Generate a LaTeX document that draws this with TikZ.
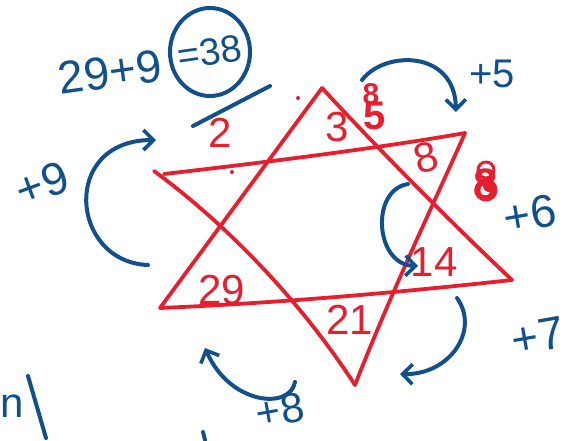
\documentclass[tikz,border=0pt]{standalone}
\usepackage{fontspec}
\setmainfont{Liberation Sans}
\usetikzlibrary{arrows.meta,positioning}

\begin{document}
\begin{tikzpicture}[x=1pt,y=-1pt,line cap=round,line join=round]
  % Ink colours of the sketch
  \definecolor{cStar}{RGB}{230,30,45}    % red marker
  \definecolor{cInk}{RGB}{18,80,140}     % blue pen

  \tikzset{
    starline/.style={cStar, line width=3.8pt},
    inkline/.style={cInk, line width=4pt},
    hop/.style={inkline, -{Straight Barb[length=10pt,width=20pt,line width=3.6pt]}},
    cellnum/.style={cStar, font=\fontsize{42}{44}\selectfont},
    steplabel/.style={cInk, font=\fontsize{46}{48}\selectfont}
  }

  \useasboundingbox (0,0) rectangle (583,440);

  % Corners of the two triangles
  \coordinate (upTop)   at (322,88);
  \coordinate (upLeft)  at (160,308);
  \coordinate (upRight) at (512,280);
  \coordinate (dnLeft)  at (154,171);
  \coordinate (dnRight) at (465,133);
  \coordinate (dnBot)   at (355,385);

  % Upward triangle
  \draw[starline] (upLeft) -- (upTop);
  \draw[starline] (upTop) .. controls (370,140) and (440,212) .. (upRight);
  \draw[starline] (upLeft) .. controls (300,302) and (420,290) .. (upRight);

  % Downward triangle
  \draw[starline] (164,174) .. controls (260,163) and (380,148) .. (dnRight);
  \draw[starline] (dnLeft) .. controls (210,212) and (290,285) .. (dnBot);
  \draw[starline] (dnRight) .. controls (440,190) and (392,290) .. (dnBot);

  % Stray dots
  \fill[cStar] (298,98) circle (2);
  \fill[cStar] (232,172) circle (2);

  % Numbers in the points of the star
  \node[cellnum] (nTwo)   at (220,133) {2};
  \node[cellnum] (nThree) at (337,127) {3};
  \node[cellnum, rotate=15] (nEight) at (426,158) {8};
  \node[cellnum] (nFourteen) at (434,262) {14};
  \node[cellnum] (nTwentyOne) at (350,320) {21};
  \node[cellnum] (nTwentyNine) at (222,290) {29};

  % Scribbled-over guesses
  \node[cStar, font=\bfseries\fontsize{40}{42}\selectfont, inner sep=0pt] (gFive) at (375,116) {5};
  \node[cStar, font=\bfseries\fontsize{30}{32}\selectfont, inner sep=0pt] (gEight) at (371,94) {8};
  \node[cStar, font=\bfseries\fontsize{44}{46}\selectfont, inner sep=0pt] (gScrib) at (486,184) {8};
  \draw[cStar, line width=3pt] (486,170) circle (8) (486,190) circle (10);
  \fill[cStar] (489,186) circle (6);

  % The working out at the top
  \node[cInk, rotate=8, font=\fontsize{46}{48}\selectfont] (sumLeft) at (110,72) {29+9};
  \node[cInk, rotate=8, font=\fontsize{38}{40}\selectfont, inner sep=0pt] (sumRight) at (210,52) {=38};
  \draw[inkline] (210,52) ellipse (40 and 44);
  \draw[inkline] (193,126) -- (270,86);

  % Steps between the numbers
  \coordinate (aNineS) at (148,265);
  \coordinate (aNineE) at (156,140);
  \draw[hop] (aNineS) .. controls (70,262) and (60,140) .. (aNineE);
  \node[steplabel, rotate=20] (lNine) at (42,184) {+9};

  \coordinate (aFiveS) at (362,80);
  \coordinate (aFiveE) at (456,112);
  \draw[hop] (aFiveS) .. controls (385,50) and (455,50) .. (aFiveE);
  \node[steplabel, font=\fontsize{40}{42}\selectfont] (lFive) at (492,74) {+5};

  \coordinate (aSixS) at (408,184);
  \coordinate (aSixE) at (418,266);
  \draw[hop] (aSixS) .. controls (370,190) and (375,265) .. (aSixE);
  \node[steplabel, rotate=10] (lSix) at (530,214) {+6};

  \coordinate (aSevenS) at (457,298);
  \coordinate (aSevenE) at (400,374);
  \draw[hop] (aSevenS) .. controls (480,330) and (450,375) .. (aSevenE);
  \node[steplabel, rotate=10] (lSeven) at (538,336) {+7};

  \coordinate (aEightS) at (295,382);
  \coordinate (aEightE) at (205,348);
  \draw[hop] (aEightS) .. controls (290,410) and (230,405) .. (aEightE);
  \node[steplabel, rotate=10, font=\fontsize{42}{44}\selectfont] (lEight) at (280,410) {+8};

  % Cut-off writing at the bottom left
  \node[cInk, font=\fontsize{42}{44}\selectfont, inner sep=0pt, anchor=west] (cutText) at (0,406) {n};
  \draw[inkline] (28,376) -- (46,438);
  \draw[inkline] (203,432) -- (205,440);
\end{tikzpicture}
\end{document}
